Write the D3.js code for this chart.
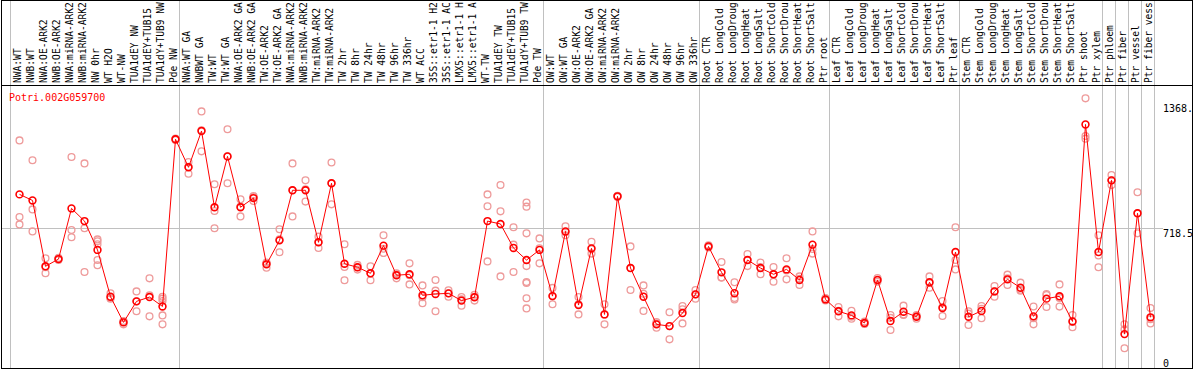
<!DOCTYPE html>
<html>
<head>
<meta charset="utf-8">
<title>Potri.002G059700</title>
<script src="https://d3js.org/d3.v7.min.js"></script>
<style>
    body {
        margin: 0;
        background: #fff;
        overflow: hidden;
    }
    svg { display: block; }
    text {
        font-family: "DejaVu Sans Mono", monospace;
    }
    .cat text { font-size: 9.6px; fill: #000; }
    .sep { stroke: #c0c0c0; stroke-width: 1; }
    .rep { fill: none; stroke: #ee9a9a; stroke-width: 1.3; }
    .mean { fill: none; stroke: #ff0000; stroke-width: 1.6; }
    .line { fill: none; stroke: #ff0000; stroke-width: 1; }
</style>
</head>
<body>
<svg width="1194" height="370"></svg>
<script>
const gene = "Potri.002G059700";

const labels = [
    "NWA:WT", "NWB:WT", "NWA:OE-ARK2", "NWB:OE-ARK2", "NWA:miRNA-ARK2", "NWB:miRNA-ARK2",
    "NW 0hr", "WT H2O", "WT-NW", "TUA1dEY NW", "TUA1dEY+TUB15 NW", "TUA1dY+TUB9 NW", "Pde NW",
    "NWA:WT GA", "NWBWT GA", "TW:WT", "TW:WT GA", "NWA:OE-ARK2 GA", "NWB:OE-ARK2 GA",
    "TW:OE-ARK2", "TW:OE-ARK2 GA", "NWA:miRNA-ARK2 GA", "NWB:miRNA-ARK2 GA", "TW:miRNA-ARK2",
    "TW:miRNA-ARK2 GA", "TW 2hr", "TW 8hr", "TW 24hr", "TW 48hr", "TW 96hr", "TW 336hr", "WT ACC",
    "35S::etr1-1 H2O", "35S::etr1-1 ACC", "LMX5::etr1-1 H2O", "LMX5::etr1-1 ACC", "WT-TW",
    "TUA1dEY TW", "TUA1dEY+TUB15 TW", "TUA1dY+TUB9 TW", "Pde TW",
    "OW:WT", "OW:WT GA", "OW:OE-ARK2", "OW:OE-ARK2 GA", "OW:miRNA-ARK2", "OW:miRNA-ARK2 GA",
    "OW 2hr", "OW 8hr", "OW 24hr", "OW 48hr", "OW 96hr", "OW 336hr",
    "Root CTR", "Root LongCold", "Root LongDrought", "Root LongHeat", "Root LongSalt",
    "Root ShortCold", "Root ShortDrought", "Root ShortHeat", "Root ShortSalt", "Ptr root",
    "Leaf CTR", "Leaf LongCold", "Leaf LongDrought", "Leaf LongHeat", "Leaf LongSalt",
    "Leaf ShortCold", "Leaf ShortDrought", "Leaf ShortHeat", "Leaf ShortSalt", "Ptr leaf",
    "Stem CTR", "Stem LongCold", "Stem LongDrought", "Stem LongHeat", "Stem LongSalt",
    "Stem ShortCold", "Stem ShortDrought", "Stem ShortHeat", "Stem ShortSalt", "Ptr shoot",
    "Ptr xylem", "Ptr phloem", "Ptr fiber", "Ptr vessel", "Ptr fiber vessel"
];

// mean expression per sample
const means = [
    891, 860, 522, 559, 819, 754, 606, 366, 234, 342,
    364, 316, 1174, 1030, 1216, 825, 1086, 825, 872, 532,
    655, 912, 912, 645, 948, 535, 517, 486, 628, 476,
    481, 373, 380, 383, 346, 363, 754, 739, 616, 554,
    606, 369, 701, 323, 614, 275, 881, 513, 366, 224,
    215, 282, 378, 624, 491, 384, 554, 513, 481, 506,
    452, 633, 352, 291, 270, 231, 452, 241, 289, 263,
    440, 308, 595, 263, 293, 393, 455, 412, 265, 356,
    368, 239, 1250, 595, 963, 174, 794, 260
];

// individual replicates per sample
const reps = [
    [1168, 775, 737], [1066, 814, 701], [563, 517, 486], [565, 559, 554], [1083, 708, 671],
    [1050, 717, 493], [660, 650, 635, 554, 527], [383, 356, 359], [241, 224, 238], [393, 291, 342],
    [460, 373, 265], [366, 356, 344, 270, 224], [1177, 1174, 1170], [1057, 997, 1033], [1317, 1112, 1220],
    [943, 806, 717], [1225, 948, 1086], [866, 778, 828], [883, 857, 877], [541, 515, 539],
    [712, 594, 660], [1050, 778, 912], [963, 854, 917], [674, 616, 645], [1055, 840, 948],
    [635, 518, 450], [529, 505, 517], [522, 450, 486], [681, 590, 612], [486, 460, 481],
    [537, 429, 476], [424, 332, 363], [452, 397, 291], [399, 366, 384], [352, 320, 364],
    [376, 346, 366], [891, 830, 547], [939, 804, 470], [722, 633, 493],
    [849, 828, 691, 523, 441, 436, 358, 306],
    [665, 537, 614], [411, 327, 369], [727, 681, 698], [364, 275, 327], [648, 587, 609],
    [327, 224, 275], [884, 881, 877], [624, 400, 513], [424, 293, 381], [236, 207, 229],
    [286, 147, 215], [318, 229, 301], [400, 356, 378], [630, 619, 624], [544, 464, 465],
    [440, 352, 359], [585, 523, 554], [541, 481, 518], [518, 443, 481], [563, 455, 501],
    [470, 426, 458], [701, 587, 611], [359, 347, 351], [313, 265, 294], [294, 253, 263],
    [239, 226, 227], [462, 443, 450], [272, 195, 257], [320, 272, 275], [272, 253, 265],
    [470, 412, 436], [344, 267, 313], [722, 554, 506], [291, 221, 279], [318, 255, 304],
    [421, 366, 393], [479, 426, 460], [438, 397, 402], [316, 224, 255], [375, 313, 380],
    [429, 315, 359], [272, 209, 238], [1384, 1191, 1177], [681, 578, 517], [990, 939, 963],
    [224, 101, 198], [902, 691, 794], [308, 229, 250]
];

// number of samples before each gray separator
const groupBreaks = [0, 13, 41, 53, 63, 73, 84, 85, 86, 87, 88];

const yMax = 1437;
const yTicks = [0, 718.5, 1368];
const yTickText = ["0", "718.5", "1368."];

// the header band only has room for 14 characters
const maxChars = 14;

let svg = d3.select("svg");

let x = d3.scaleBand()
    .domain(d3.range(labels.length))
    .range([11, 1155]);
let y = d3.scaleLinear()
    .domain([0, yMax])
    .range([368, 88]);

const px = i => x(i) + 8.5;
const edge = n => Math.round(11 + n * x.bandwidth()) - 0.5;

// group separators
svg.append("g")
    .selectAll("line")
    .data(groupBreaks)
    .enter().append("line")
    .attr("class", "sep")
    .attr("x1", edge).attr("x2", edge)
    .attr("y1", 0).attr("y2", 369);

// mid line
svg.append("line")
    .attr("class", "sep")
    .attr("x1", 1).attr("x2", 1163)
    .attr("y1", Math.round(y(yMax / 2)) + 0.5)
    .attr("y2", Math.round(y(yMax / 2)) + 0.5);

// sample names
svg.append("g")
    .attr("class", "cat")
    .selectAll("text")
    .data(labels)
    .enter().append("text")
    .attr("transform", (d, i) => `translate(${x(i) + 10},83) rotate(-90)`)
    .text(d => d.slice(0, maxChars));

// replicates
let repData = [];
reps.forEach((r, i) => r.forEach(v => repData.push({ i: i, v: v })));
svg.append("g")
    .selectAll("circle")
    .data(repData)
    .enter().append("circle")
    .attr("class", "rep")
    .attr("cx", d => px(d.i))
    .attr("cy", d => y(d.v))
    .attr("r", 3.4);

// mean line + markers
svg.append("path")
    .datum(means)
    .attr("class", "line")
    .attr("d", d3.line().x((d, i) => px(i)).y(d => y(d)));

svg.append("g")
    .selectAll("circle")
    .data(means)
    .enter().append("circle")
    .attr("class", "mean")
    .attr("cx", (d, i) => px(i))
    .attr("cy", d => y(d))
    .attr("r", 3.4);

// gene id
svg.append("text")
    .attr("x", 9)
    .attr("y", 101)
    .attr("fill", "#ff0000")
    .style("font-size", "10px")
    .text(gene);

// right axis
let axis = svg.append("g")
    .attr("transform", "translate(1160,0)")
    .call(d3.axisRight(y).tickValues(yTicks).tickSize(0).tickPadding(3)
        .tickFormat((d, i) => yTickText[i]));
axis.select(".domain").remove();
axis.selectAll("text")
    .attr("fill", "#000")
    .style("font-family", "DejaVu Sans Mono, monospace")
    .style("font-size", "10px")
    .attr("dy", d => d === 0 ? -2 : (d === yTicks[2] ? 9.6 : 8));

// frame
svg.append("line")
    .attr("x1", 1).attr("x2", 1193)
    .attr("y1", 85.5).attr("y2", 85.5)
    .attr("stroke", "#000");
svg.append("rect")
    .attr("x", 1.5).attr("y", 0.5)
    .attr("width", 1191).attr("height", 368)
    .attr("fill", "none")
    .attr("stroke", "#000");
</script>
</body>
</html>
